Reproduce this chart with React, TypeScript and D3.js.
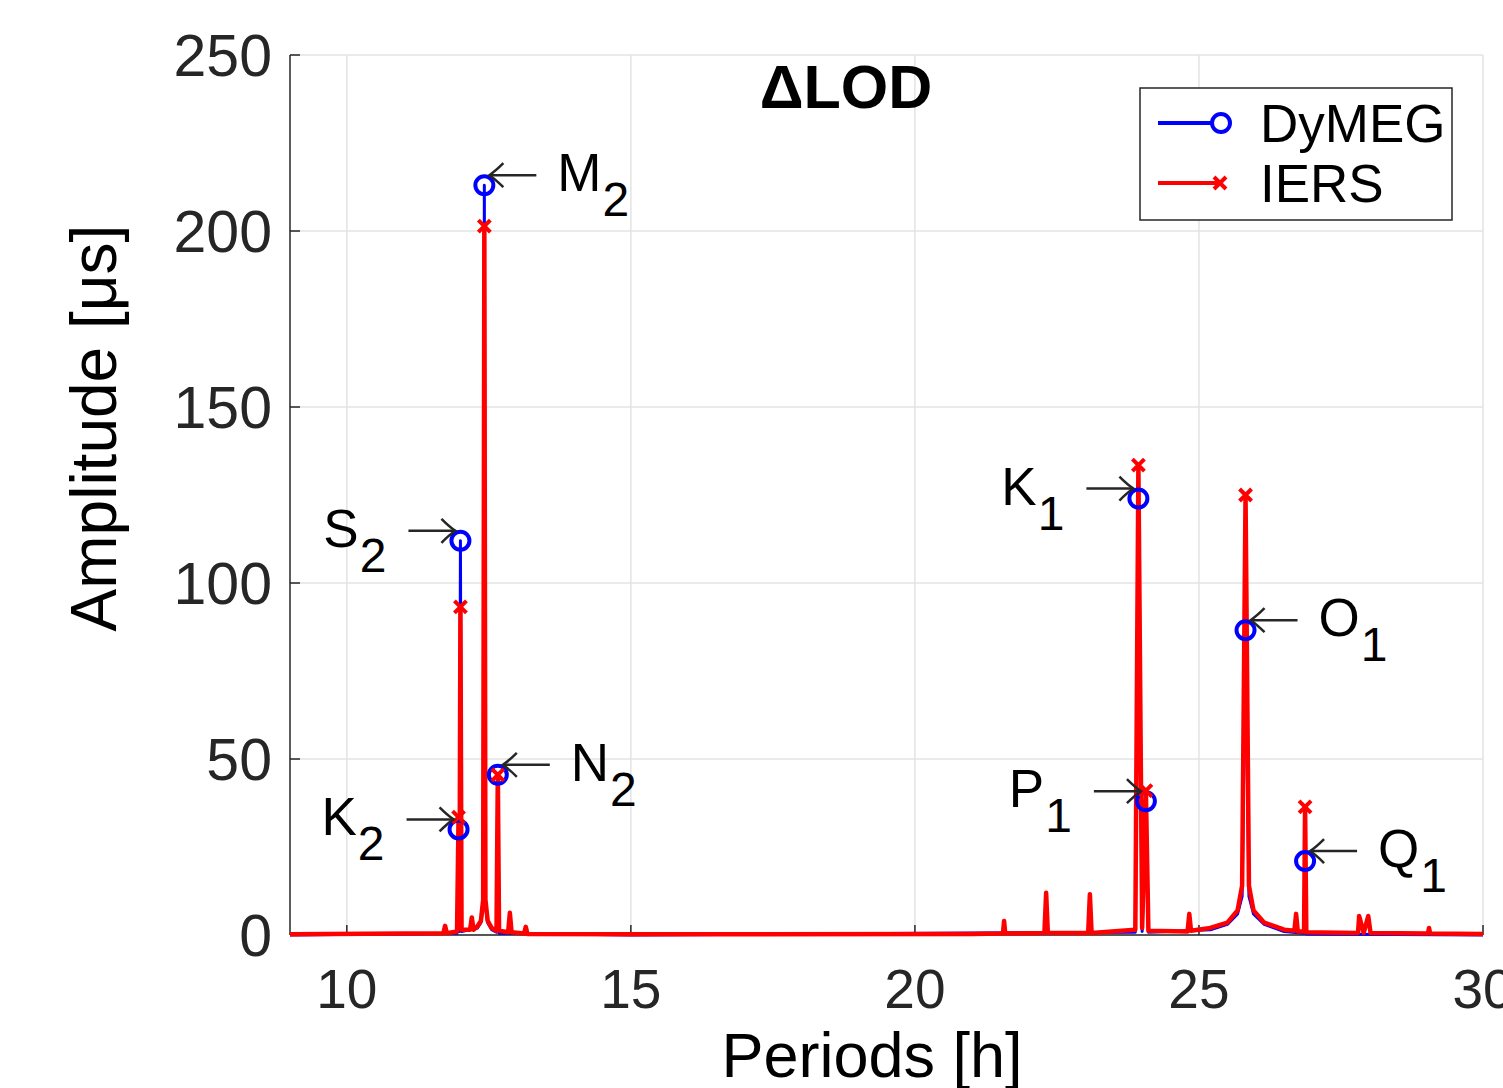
import React from "react";
import * as d3 from "d3";

// ---- data ----
const xTicks = [10, 15, 20, 25, 30];
const yTicks = [0, 50, 100, 150, 200, 250];

// IERS spectrum samples: [period h, amplitude µs]
const iersSpectrum: [number, number][] = [
  [9.0, 0.2], [11.0, 0.4], [11.70, 0.5], [11.73, 2.6], [11.76, 0.5],
  [11.94, 1.0], [11.967, 33.5], [11.983, 2], [12.0, 93.2], [12.02, 1.5],
  [12.17, 1.5], [12.2, 5], [12.23, 1.5], [12.3, 2.5], [12.36, 4], [12.40, 10],
  [12.421, 201.4], [12.44, 10], [12.48, 4], [12.55, 2], [12.635, 1.2],
  [12.658, 45.5], [12.68, 1.2], [12.84, 0.8], [12.87, 6.3], [12.9, 0.8],
  [13.12, 0.4], [13.15, 2.3], [13.18, 0.3], [15.0, 0.2], [21.0, 0.3],
  [21.55, 0.4], [21.57, 4], [21.59, 0.4], [22.28, 0.6], [22.31, 12], [22.34, 0.6],
  [23.05, 0.6], [23.08, 11.6], [23.11, 0.6], [23.88, 1.5], [23.934, 133.5],
  [24.0, 2], [24.066, 41], [24.11, 1.2], [24.8, 1], [24.83, 6], [24.86, 1.2],
  [25.2, 2], [25.5, 3.5], [25.68, 7], [25.76, 14], [25.82, 125], [25.88, 14],
  [25.96, 7], [26.15, 3.5], [26.5, 1.5], [26.68, 1.2], [26.71, 6], [26.74, 1],
  [26.85, 1], [26.868, 36.4], [26.89, 0.8], [27.8, 0.6], [27.82, 5.4], [27.9, 0.6],
  [27.98, 5.4], [28.02, 0.6], [29.03, 0.4], [29.05, 2], [29.07, 0.4], [30.0, 0.3],
];

// DyMEG spectrum samples
const dymegSpectrum: [number, number][] = [
  [9.0, 0], [11.94, 0.5], [11.967, 30], [11.983, 1], [12.0, 112], [12.02, 1],
  [12.3, 2], [12.36, 3.5], [12.40, 8], [12.421, 213], [12.44, 8], [12.48, 3.5],
  [12.55, 1.5], [12.635, 0.8], [12.658, 45.5], [12.68, 0.5], [15.0, 0], [23.88, 0.8],
  [23.934, 124], [24.0, 1], [24.066, 38], [24.11, 0.8], [25.2, 1.5], [25.5, 3],
  [25.68, 6], [25.76, 11], [25.82, 86.6], [25.88, 11], [25.96, 6], [26.15, 3],
  [26.5, 1], [26.85, 0.5], [26.868, 21], [26.89, 0.3], [30.0, 0],
];

// tidal constituents
const constituents = ["K2", "S2", "M2", "N2", "K1", "P1", "O1", "Q1"];
const constPeriod = [11.967, 12.0, 12.421, 12.658, 23.934, 24.066, 25.82, 26.868];
const constDymeg = [30, 112, 213, 45.5, 124, 38, 86.6, 21];
const constIers = [33.5, 93.2, 201.4, 45.5, 133.5, 41, 125, 36.4];
// arrow comes from the left (1) or right (-1)
const arrowSide = [1, 1, -1, -1, 1, 1, -1, -1];

const legendNames = ["DyMEG", "IERS"];

// ---- layout ----
const W = 1503;
const H = 1088;
const M = { left: 290, right: 1483, top: 55, bottom: 935 };
const BLUE = "#0000ff";
const RED = "#ff0000";
const FONT = "'Liberation Sans', Arial, Helvetica, sans-serif";

export default function App() {
  const x = d3.scaleLinear().domain([9, 30]).range([M.left, M.right]);
  const y = d3.scaleLinear().domain([0, 250]).range([M.bottom, M.top]);
  const line = d3
    .line<[number, number]>()
    .x((d) => x(d[0]))
    .y((d) => y(d[1]));

  const circle = (cx: number, cy: number, key: string) => (
    <circle key={key} cx={cx} cy={cy} r={9} fill="none" stroke={BLUE} strokeWidth={4} />
  );
  const cross = (cx: number, cy: number, key: string) => {
    const s = 6;
    return (
      <path
        key={key}
        d={`M${cx - s},${cy - s}L${cx + s},${cy + s}M${cx - s},${cy + s}L${cx + s},${cy - s}`}
        stroke={RED}
        strokeWidth={4}
        fill="none"
      />
    );
  };

  return (
    <div style={{ position: "absolute", left: 0, top: 0 }}>
      <svg width={W} height={H} style={{ display: "block", background: "#fff" }} fontFamily={FONT}>
        <defs>
          <clipPath id="plot">
            <rect x={M.left} y={M.top - 20} width={M.right - M.left} height={M.bottom - M.top + 40} />
          </clipPath>
        </defs>
        {/* grid */}
        {xTicks.map((t) => (
          <line key={"gx" + t} x1={x(t)} x2={x(t)} y1={M.top} y2={M.bottom} stroke="#e3e3e3" strokeWidth={1.5} />
        ))}
        {yTicks.map((t) => (
          <line key={"gy" + t} x1={M.left} x2={M.right} y1={y(t)} y2={y(t)} stroke="#e3e3e3" strokeWidth={1.5} />
        ))}
        {/* axes */}
        <line x1={M.left} x2={M.left} y1={M.top} y2={M.bottom} stroke="#262626" strokeWidth={1.5} />
        <line x1={M.left} x2={M.right} y1={M.bottom} y2={M.bottom} stroke="#262626" strokeWidth={1.5} />
        {yTicks.map((t) => (
          <line key={"ty" + t} x1={M.left} x2={M.left + 10} y1={y(t)} y2={y(t)} stroke="#262626" strokeWidth={1.5} />
        ))}
        {xTicks.map((t) => (
          <line key={"tx" + t} x1={x(t)} x2={x(t)} y1={M.bottom} y2={M.bottom - 10} stroke="#262626" strokeWidth={1.5} />
        ))}
        {/* tick labels */}
        {yTicks.map((t) => (
          <text key={"ly" + t} x={M.left - 18} y={y(t) + 21} textAnchor="end" fontSize={59} fill="#262626">
            {t}
          </text>
        ))}
        {xTicks.map((t) => (
          <text key={"lx" + t} x={x(t)} y={M.bottom + 73} textAnchor="middle" fontSize={55} fill="#262626">
            {t}
          </text>
        ))}
        {/* axis titles */}
        <text x={872} y={1077} textAnchor="middle" fontSize={63} fill="#000">
          Periods [h]
        </text>
        <text
          transform={`translate(116,428) rotate(-90)`}
          textAnchor="middle"
          fontSize={64}
          fill="#000"
        >
          Amplitude [μs]
        </text>
        <text x={846} y={108} textAnchor="middle" fontSize={61} fontWeight="bold" fill="#000">
          ΔLOD
        </text>

        {/* series */}
        <g clipPath="url(#plot)">
          <path d={line(dymegSpectrum) || ""} fill="none" stroke={BLUE} strokeWidth={3} strokeLinejoin="round" />
          <path d={line(iersSpectrum) || ""} fill="none" stroke={RED} strokeWidth={4.5} strokeLinejoin="round" />
        </g>
        {constituents.map((c, i) => circle(x(constPeriod[i]), y(constDymeg[i]), "c" + c))}
        {constituents.map((c, i) => cross(x(constPeriod[i]), y(constIers[i]), "x" + c))}

        {/* annotations */}
        {constituents.map((c, i) => {
          const side = arrowSide[i];
          const tipX = x(constPeriod[i]) - side * 5;
          const ay = y(constDymeg[i]) - 10;
          const tailX = tipX - side * 47;
          const hx = tipX - side * 14;
          const letter = c[0];
          const sub = c[1];
          const tx = side === 1 ? tailX - 22 : tailX + 21;
          return (
            <g key={"a" + c}>
              <line x1={tailX} x2={tipX} y1={ay} y2={ay} stroke="#262626" strokeWidth={2.5} />
              <path
                d={`M${hx},${ay - 12}Q${tipX - side * 6},${ay - 4} ${tipX},${ay}Q${tipX - side * 6},${ay + 4} ${hx},${ay + 12}`}
                fill="none"
                stroke="#262626"
                strokeWidth={2.5}
              />
              <text x={tx} y={ay + 16} textAnchor={side === 1 ? "end" : "start"} fontSize={53} fill="#000">
                {letter}
                <tspan dx={1} dy={25} fontSize={48}>
                  {sub}
                </tspan>
              </text>
            </g>
          );
        })}

        {/* legend */}
        <rect x={1140} y={88} width={312} height={132} fill="#fff" stroke="#262626" strokeWidth={1.5} />
        <line x1={1158} x2={1214} y1={123} y2={123} stroke={BLUE} strokeWidth={4} />
        {circle(1221, 123, "lc")}
        <line x1={1158} x2={1220} y1={183} y2={183} stroke={RED} strokeWidth={4} />
        {cross(1220, 183, "lx")}
        {legendNames.map((n, i) => (
          <text key={n} x={1260} y={142 + i * 60} fontSize={53} fill="#000">
            {n}
          </text>
        ))}
      </svg>
    </div>
  );
}
